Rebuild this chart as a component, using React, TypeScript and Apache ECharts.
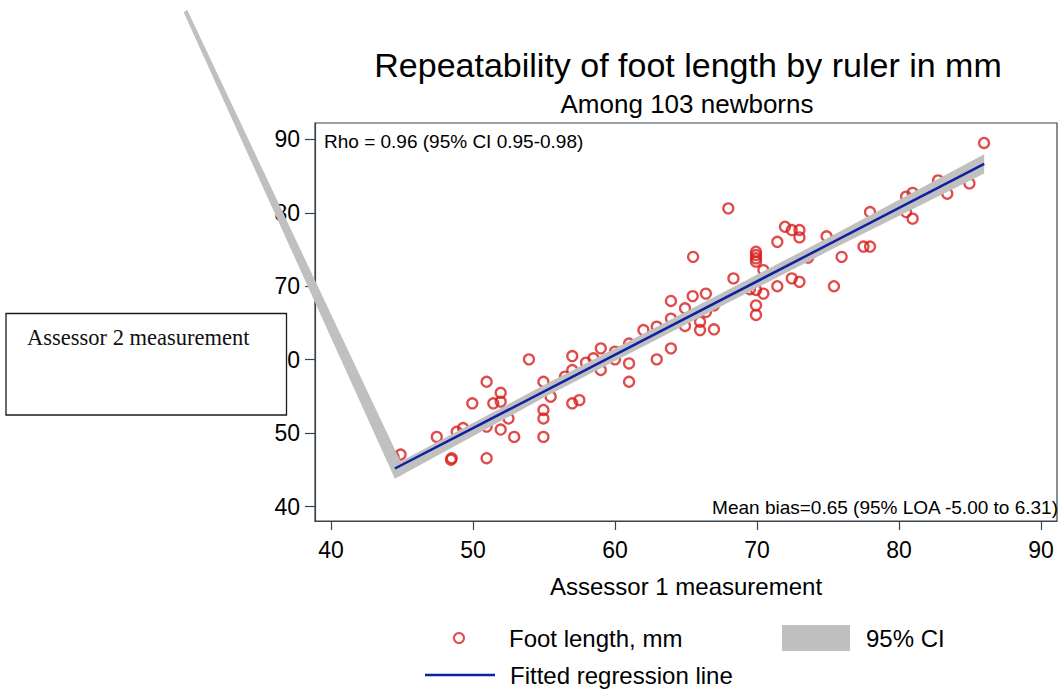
import React, { useEffect, useRef } from "react";
import * as echarts from "echarts";

// Assessor 1 (x) and Assessor 2 (y) foot length measurements, mm
const assessor1: number[] = [
  44.4, 44.9, 47.45, 48.5, 48.45, 48.85, 49.3, 49.95, 50.96, 50.96,
  50.96, 51.43, 51.95, 51.95, 51.95, 52.5, 52.9, 53.94, 54.96, 54.96,
  54.96, 54.96, 55.47, 56.48, 56.99, 56.99, 56.99, 57.49, 57.96, 58.48,
  59.0, 59.0, 60.0, 60.0, 60.99, 60.99, 60.99, 62.0, 62.94, 62.94,
  63.94, 63.94, 63.94, 64.93, 64.93, 65.47, 65.99, 65.99, 66.4, 66.4,
  66.97, 66.97, 68.34, 67.98, 65.5, 69.93, 69.93, 69.93, 69.93, 70.45,
  69.93, 70.45, 69.93, 69.93, 71.43, 71.43, 71.97, 72.45, 72.99, 72.99,
  72.45, 72.99, 74.9, 75.96, 75.42, 73.6, 69.5, 85.99, 84.96, 83.4,
  82.75, 80.96, 80.5, 80.5, 80.96, 77.96, 77.5, 77.96,
];
const assessor2: number[] = [
  46.8, 47.1, 49.5, 46.6, 46.4, 50.2, 50.7, 54.07, 57.0, 46.6,
  50.9, 54.07, 55.5, 54.3, 50.5, 52.0, 49.5, 60.05, 57.0, 53.16,
  52.0, 49.5, 54.97, 57.7, 60.5, 58.6, 54.07, 54.5, 59.6, 60.2,
  61.55, 58.6, 61.1, 60.05, 62.2, 59.5, 57.0, 64.04, 64.5, 60.05,
  61.55, 65.6, 68.0, 67.0, 64.6, 68.66, 65.17, 64.04, 69.0, 66.5,
  64.14, 67.4, 71.07, 80.6, 74.0, 74.7, 74.25, 73.8, 73.35, 72.2,
  69.5, 69.0, 67.4, 66.1, 76.05, 70.0, 78.1, 77.65, 77.65, 76.65,
  71.07, 70.6, 76.8, 74.0, 70.0, 73.9, 69.6, 89.5, 84.0, 82.6,
  84.4, 82.7, 82.2, 80.1, 79.2, 80.1, 75.4, 75.4,
];

// Fitted regression line
const fitX: number[] = [44.5, 86.0];
const fitY: number[] = [45.2, 86.65];

// 95% CI band (upper and lower limits), including the stray vertex
const ciUpperX: number[] = [29.88, 44.9, 55, 64, 75, 86];
const ciUpperY: number[] = [107.6, 46.15, 56.55, 65.55, 76.6, 87.95];
const ciLowerX: number[] = [29.62, 44.5, 55, 64, 75, 86];
const ciLowerY: number[] = [107.3, 43.8, 54.85, 63.8, 74.75, 85.35];

// Tick labels
const xTickValues: number[] = [40, 50, 60, 70, 80, 90];
const yTickValues: number[] = [40, 50, 60, 70, 80, 90];

const FONT = '"Liberation Sans", Arial, Helvetica, sans-serif';
const FRAME = "#3a444e";
const RED = "#d81e1e";
const NAVY = "#0f20a0";

export default function App() {
  const ref = useRef<HTMLDivElement>(null);

  useEffect(() => {
    document.body.style.margin = "0";
    if (!ref.current) return;
    const chart = echarts.init(ref.current, null, { renderer: "svg" });

    const scatterData = assessor1.map((x, i) => [x, assessor2[i]]);
    const lineData = fitX.map((x, i) => [x, fitY[i]]);

    const option: any = {
      animation: false,
      backgroundColor: "#ffffff",
      textStyle: { fontFamily: FONT },
      title: [
        {
          text: "Repeatability of foot length by ruler in mm",
          left: 688,
          top: 48,
          padding: 0,
          textAlign: "center",
          textStyle: { fontSize: 34, fontWeight: "normal", color: "#000", fontFamily: FONT },
        },
        {
          text: "Among 103 newborns",
          left: 687,
          top: 91,
          padding: 0,
          textAlign: "center",
          textStyle: { fontSize: 26, fontWeight: "normal", color: "#000", fontFamily: FONT },
        },
      ],
      grid: {
        left: 315,
        top: 123,
        width: 742,
        height: 398,
        show: true,
        borderColor: FRAME,
        borderWidth: 1.2,
        backgroundColor: "transparent",
        containLabel: false,
      },
      xAxis: {
        type: "value",
        min: 38.873,
        max: 91.127,
        axisLine: { show: true, lineStyle: { color: FRAME, width: 1.2 } },
        axisTick: {
          show: true,
          length: 9,
          inside: false,
          customValues: xTickValues,
          lineStyle: { color: FRAME, width: 1.2 },
        },
        axisLabel: {
          customValues: xTickValues,
          margin: 17,
          fontSize: 23,
          color: "#000",
          fontFamily: FONT,
        },
        splitLine: { show: false },
        name: "Assessor 1 measurement",
        nameLocation: "middle",
        nameGap: 53,
        nameTextStyle: { fontSize: 24, color: "#000", fontFamily: FONT },
      },
      yAxis: {
        type: "value",
        min: 38.054,
        max: 92.218,
        axisLine: { show: true, lineStyle: { color: FRAME, width: 1.2 } },
        axisTick: {
          show: true,
          length: 10,
          inside: false,
          customValues: yTickValues,
          lineStyle: { color: FRAME, width: 1.2 },
        },
        axisLabel: {
          customValues: yTickValues,
          margin: 15,
          fontSize: 23,
          color: "#000",
          fontFamily: FONT,
        },
        splitLine: { show: false },
      },
      legend: [
        {
          data: [{ name: "Foot length, mm" }],
          left: 453,
          top: 626,
          padding: 0,
          itemWidth: 70,
          itemHeight: 10,
          selectedMode: false,
          textStyle: { fontSize: 24, color: "#000", fontFamily: FONT, padding: [0, 0, 0, 10] },
        },
        {
          data: [{ name: "95% CI", icon: "rect", itemStyle: { color: "#c0c0c0" } }],
          left: 782,
          top: 625,
          padding: 0,
          itemWidth: 68,
          itemHeight: 26,
          selectedMode: false,
          textStyle: { fontSize: 24, color: "#000", fontFamily: FONT, padding: [0, 0, 0, 11] },
        },
        {
          data: [
            { name: "Fitted regression line", icon: "rect", itemStyle: { color: NAVY } },
          ],
          left: 425,
          top: 663,
          padding: 0,
          itemWidth: 70,
          itemHeight: 2.5,
          selectedMode: false,
          textStyle: { fontSize: 24, color: "#000", fontFamily: FONT, padding: [0, 0, 0, 10] },
        },
      ],
      series: [
        {
          name: "Foot length, mm",
          type: "scatter",
          data: scatterData,
          symbol: "circle",
          symbolSize: 10,
          z: 2,
          itemStyle: {
            color: "rgba(0,0,0,0)",
            borderColor: RED,
            borderWidth: 2.3,
          },
          emphasis: { disabled: true },
        },
        {
          name: "95% CI",
          type: "custom",
          coordinateSystem: "cartesian2d",
          clip: false,
          z: 3,
          data: [[ciUpperX[1], ciUpperY[1]]],
          itemStyle: { color: "#c0c0c0" },
          renderItem: (params: any, api: any) => {
            const pts: number[][] = [];
            for (let i = 0; i < ciUpperX.length; i++) {
              pts.push(api.coord([ciUpperX[i], ciUpperY[i]]));
            }
            for (let i = ciLowerX.length - 1; i >= 0; i--) {
              pts.push(api.coord([ciLowerX[i], ciLowerY[i]]));
            }
            return {
              type: "polygon",
              shape: { points: pts },
              style: { fill: "#c0c0c0", stroke: "none" },
            };
          },
          silent: true,
        },
        {
          name: "Fitted regression line",
          type: "line",
          data: lineData,
          symbol: "none",
          z: 4,
          lineStyle: { color: NAVY, width: 2.5 },
          itemStyle: { color: NAVY },
          emphasis: { disabled: true },
        },
      ],
      graphic: [
        {
          type: "text",
          x: 324,
          y: 141.5,
          z: 50,
          style: {
            text: "Rho = 0.96 (95% CI 0.95-0.98)",
            fontSize: 19,
            fontFamily: FONT,
            fill: "#000",
            align: "left",
            verticalAlign: "middle",
          },
        },
        {
          type: "text",
          x: 1058,
          y: 507,
          z: 50,
          style: {
            text: "Mean bias=0.65 (95% LOA -5.00 to 6.31)",
            fontSize: 19,
            fontFamily: FONT,
            fill: "#000",
            align: "right",
            verticalAlign: "middle",
          },
        },
        {
          type: "rect",
          z: 100,
          shape: { x: 6, y: 313.5, width: 280.5, height: 101.5 },
          style: { fill: "#ffffff", stroke: "#1a1a1a", lineWidth: 1.3 },
        },
        {
          type: "text",
          x: 27,
          y: 337,
          z: 101,
          style: {
            text: "Assessor 2 measurement",
            fontSize: 22.5,
            fontFamily: '"Liberation Serif", "Times New Roman", serif',
            fill: "#111",
            align: "left",
            verticalAlign: "middle",
          },
        },
      ],
    };

    chart.setOption(option);
    return () => {
      chart.dispose();
    };
  }, []);

  return <div ref={ref} style={{ width: 1061, height: 691 }} />;
}
